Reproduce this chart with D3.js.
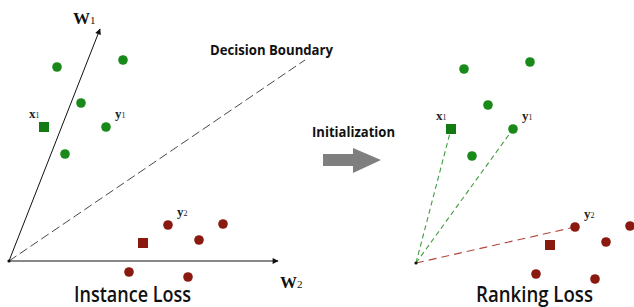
<!DOCTYPE html>
<html>
<head>
<meta charset="utf-8">
<script src="https://cdn.jsdelivr.net/npm/d3@7"></script>
<style>
  html, body { margin: 0; padding: 0; background: #fff; }
  svg { display: block; }
</style>
</head>
<body>
<svg id="chart" width="634" height="307"></svg>
<script>
// embedding coordinates, measured from each panel's origin (W2 right, W1 up)
var greenPts = [[48, 194], [114, 201], [72, 158], [97, 134], [56, 107]];
var greenAnchor = [35, 134];
var redPts = [[159, 36], [214, 37], [190, 21], [120, -11], [179, -16]];
var redAnchor = [134, 18];
var w1Tip = [91, 232];
var w2Tip = [269, 0];
var boundaryEnd = [296, 201];
var panelTitles = ["Instance Loss", "Ranking Loss"];
var axisNames = ["W", "W"];
var axisSubs = ["1", "2"];

var GREEN = "#198a19", RED = "#8a1a10";
var svg = d3.select("#chart");

// defs: little arrow heads for the axes
svg.append("defs").append("marker")
  .attr("id", "ah").attr("viewBox", "0 0 10 10")
  .attr("refX", 9).attr("refY", 5)
  .attr("markerWidth", 8).attr("markerHeight", 6)
  .attr("markerUnits", "userSpaceOnUse")
  .attr("orient", "auto")
  .append("path").attr("d", "M0,0L10,5L0,10z").attr("fill", "#111");

function sub(el, main, s, size, subSize) {
  el.append("tspan").text(main).style("font-size", size + "px");
  el.append("tspan").text(s).style("font-size", subSize + "px").style("font-weight", "normal");
}

function panel(ox, oy, mode) {
  var x = d3.scaleLinear().domain([0, 300]).range([ox, ox + 300]);
  var y = d3.scaleLinear().domain([0, 300]).range([oy, oy - 300]);
  var g = svg.append("g");

  if (mode === "instance") {
    // decision boundary
    g.append("line")
      .attr("x1", x(0)).attr("y1", y(0))
      .attr("x2", x(boundaryEnd[0])).attr("y2", y(boundaryEnd[1]))
      .attr("stroke", "#333").attr("stroke-width", 0.9)
      .attr("stroke-dasharray", "9,4");
    // axes
    [w1Tip, w2Tip].forEach(function(t) {
      g.append("line")
        .attr("x1", x(0)).attr("y1", y(0))
        .attr("x2", x(t[0])).attr("y2", y(t[1]))
        .attr("stroke", "#111").attr("stroke-width", 1)
        .attr("marker-end", "url(#ah)");
    });
    var t1 = g.append("text").attr("x", 73).attr("y", 24)
      .attr("font-family", "Liberation Serif, serif").attr("font-weight", "bold").attr("fill", "#111");
    sub(t1, axisNames[0], axisSubs[0], 17, 11);
    var t2 = g.append("text").attr("x", 280).attr("y", 288)
      .attr("font-family", "Liberation Serif, serif").attr("font-weight", "bold").attr("fill", "#111");
    sub(t2, axisNames[1], axisSubs[1], 17, 11);
  } else {
    // ranking pairs
    [[greenAnchor, "#3f9c3f", "5,3.5"], [greenPts[3], "#3f9c3f", "5,3.5"], [redPts[0], "#b3463c", "8,5"]]
      .forEach(function(d) {
        g.append("line")
          .attr("x1", x(0)).attr("y1", y(0))
          .attr("x2", x(d[0][0])).attr("y2", y(d[0][1]))
          .attr("stroke", d[1]).attr("stroke-width", 1.1)
          .attr("stroke-dasharray", d[2]);
      });
  }
  g.append("circle").attr("cx", x(0)).attr("cy", y(0)).attr("r", 1.6).attr("fill", "#111");

  g.selectAll("circle.g").data(greenPts).enter().append("circle")
    .attr("cx", function(d) { return x(d[0]); })
    .attr("cy", function(d) { return y(d[1]); })
    .attr("r", 4.8).attr("fill", GREEN);
  g.selectAll("circle.r").data(redPts).enter().append("circle")
    .attr("cx", function(d) { return x(d[0]); })
    .attr("cy", function(d) { return y(d[1]); })
    .attr("r", 4.8).attr("fill", RED);
  [[greenAnchor, "#137a13"], [redAnchor, RED]].forEach(function(d) {
    g.append("rect")
      .attr("x", x(d[0][0]) - 5).attr("y", y(d[0][1]) - 5)
      .attr("width", 10).attr("height", 10).attr("fill", d[1]);
  });

  // point labels
  var lbl = [["x", "1", greenAnchor, -15, -9], ["y", "1", greenPts[3], 9, -9], ["y", "2", redPts[0], 9, -9]];
  lbl.forEach(function(l) {
    var t = g.append("text")
      .attr("x", x(l[2][0]) + l[3]).attr("y", y(l[2][1]) + l[4])
      .attr("font-family", "Liberation Serif, serif").attr("font-weight", "bold").attr("fill", "#222");
    sub(t, l[0], l[1], 13, 8);
  });

  g.append("text")
    .attr("x", mode === "instance" ? 74 : 476).attr("y", 302)
    .attr("textLength", 117).attr("lengthAdjust", "spacingAndGlyphs")
    .attr("font-family", "Open Sans, sans-serif").attr("font-size", 21).attr("font-weight", 600)
    .attr("fill", "#111")
    .text(panelTitles[mode === "instance" ? 0 : 1]);
}

panel(9, 261, "instance");
panel(416, 263, "ranking");

svg.append("text").attr("x", 210).attr("y", 55)
  .attr("textLength", 123).attr("lengthAdjust", "spacingAndGlyphs")
  .attr("font-family", "Open Sans, sans-serif").attr("font-weight", 700)
  .attr("font-size", 14).attr("fill", "#111").text("Decision Boundary");

svg.append("text").attr("x", 312).attr("y", 137)
  .attr("textLength", 83).attr("lengthAdjust", "spacingAndGlyphs")
  .attr("font-family", "Open Sans, sans-serif").attr("font-weight", 700)
  .attr("font-size", 14).attr("fill", "#111").text("Initialization");

// grey block arrow
svg.append("path")
  .attr("d", d3.line()([[323, 154], [353, 154], [353, 148], [381, 160], [353, 173], [353, 166], [323, 166]]) + "Z")
  .attr("fill", "#7f7f7f");
</script>
</body>
</html>
